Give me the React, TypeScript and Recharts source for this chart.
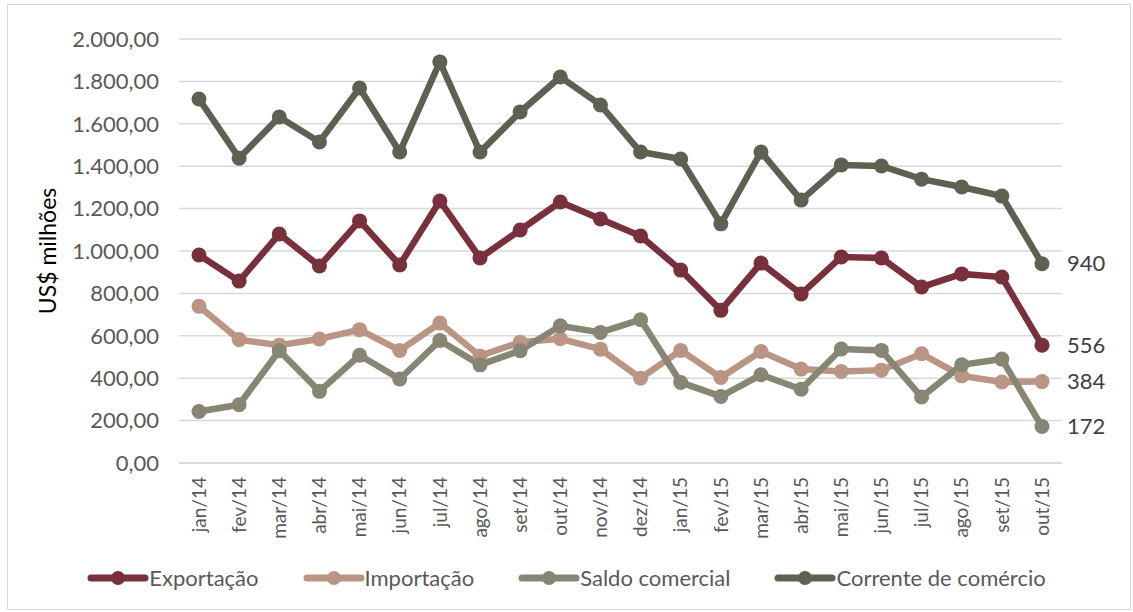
import { LineChart, Line, XAxis, YAxis, CartesianGrid, LabelList } from "recharts";

const months = [
  "jan/14", "fev/14", "mar/14", "abr/14", "mai/14", "jun/14", "jul/14", "ago/14",
  "set/14", "out/14", "nov/14", "dez/14", "jan/15", "fev/15", "mar/15", "abr/15",
  "mai/15", "jun/15", "jul/15", "ago/15", "set/15", "out/15",
];

const exportacao = [
  981, 858, 1080, 929, 1142, 934, 1236, 967, 1099, 1231, 1151,
  1071, 910, 720, 943, 797, 972, 967, 830, 892, 877, 556,
];
const importacao = [
  739, 582, 556, 585, 629, 531, 660, 505, 570, 586, 537,
  400, 531, 403, 526, 443, 432, 438, 515, 411, 382, 384,
];
const saldo = [
  243, 275, 530, 338, 508, 396, 578, 463, 530, 647, 616,
  676, 380, 314, 416, 348, 538, 531, 311, 463, 490, 172,
];
const corrente = [
  1717, 1438, 1632, 1514, 1769, 1467, 1892, 1467, 1656, 1821, 1689,
  1467, 1434, 1128, 1467, 1240, 1406, 1401, 1339, 1302, 1259, 940,
];

const yTicks = [0, 200, 400, 600, 800, 1000, 1200, 1400, 1600, 1800, 2000];

const series = [
  { key: "exportacao", name: "Exportação", color: "#78303C" },
  { key: "importacao", name: "Importação", color: "#BA9584" },
  { key: "saldo", name: "Saldo comercial", color: "#878674" },
  { key: "corrente", name: "Corrente de comércio", color: "#5F6051" },
];

const data = months.map((m, i) => ({
  month: m,
  exportacao: exportacao[i],
  importacao: importacao[i],
  saldo: saldo[i],
  corrente: corrente[i],
}));

const FONT = "Lato, 'Open Sans', sans-serif";

function fmt(v: number) {
  const s = Math.round(v).toString();
  const withDots = s.replace(/\B(?=(\d{3})+(?!\d))/g, ".");
  return withDots + ",00";
}

const MonthTick = (props: any) => {
  const { x, y, payload } = props;
  return (
    <g transform={`translate(${x},${y + 6}) rotate(-90)`}>
      <text textAnchor="end" dy="0.35em" fill="#595959" fontSize={19} fontFamily={FONT}>
        {payload.value}
      </text>
    </g>
  );
};

const EndLabel = (props: any) => {
  const { x, y, index, value } = props;
  if (index !== months.length - 1) return null;
  return (
    <text x={x + 25} y={y} dy="0.35em" fill="#404040" fontSize={22} fontFamily={FONT}>
      {value}
    </text>
  );
};

function LegendIcon({ color }: { color: string }) {
  return (
    <svg width={62} height={18} style={{ display: "block" }}>
      <line x1={4} y1={9} x2={58} y2={9} stroke={color} strokeWidth={7} strokeLinecap="round" />
      <circle cx={31} cy={9} r={7} fill={color} />
    </svg>
  );
}

export default function App() {
  return (
    <div
      style={{
        position: "absolute",
        left: 0,
        top: 0,
        width: 1133,
        height: 612,
        background: "#fff",
        fontFamily: FONT,
      }}
    >
      <div
        style={{
          position: "absolute",
          left: 7,
          top: 4,
          width: 1124,
          height: 606,
          border: "1.5px solid #D9D9D9",
          boxSizing: "border-box",
        }}
      />
      <div
        style={{
          position: "absolute",
          left: 47,
          top: 251,
          transform: "translate(-50%, -50%) rotate(-90deg)",
          fontSize: 23,
          color: "#000",
          whiteSpace: "nowrap",
        }}
      >
        US$ milhões
      </div>
      <div style={{ position: "absolute", left: 0, top: 0 }}>
        <LineChart
          width={1133}
          height={612}
          data={data}
          margin={{ top: 39, right: 71, left: 79, bottom: 59 }}
        >
          <CartesianGrid vertical={false} stroke="#D9D9D9" strokeWidth={1.5} />
          <XAxis
            dataKey="month"
            interval={0}
            height={90}
            padding={{ left: 20, right: 20 }}
            axisLine={{ stroke: "#D9D9D9", strokeWidth: 1.5 }}
            tickLine={false}
            tick={<MonthTick />}
          />
          <YAxis
            width={100}
            domain={[0, 2000]}
            ticks={yTicks}
            axisLine={false}
            tickLine={false}
            tickMargin={14}
            tickFormatter={fmt}
            tick={{ fill: "#595959", fontSize: 22, fontFamily: FONT }}
          />
          {series.map((s) => (
            <Line
              key={s.key}
              type="linear"
              dataKey={s.key}
              name={s.name}
              stroke={s.color}
              strokeWidth={6.5}
              dot={{ r: 7.5, fill: s.color, stroke: s.color, strokeWidth: 0 }}
              activeDot={false}
              isAnimationActive={false}
            >
              <LabelList dataKey={s.key} content={<EndLabel />} />
            </Line>
          ))}
        </LineChart>
      </div>
      <div
        style={{
          position: "absolute",
          left: 0,
          top: 564,
          width: 1133,
          display: "flex",
          justifyContent: "center",
          gap: 44,
          fontSize: 22,
          color: "#595959",
        }}
      >
        {series.map((s) => (
          <div key={s.key} style={{ display: "flex", alignItems: "center", gap: 0 }}>
            <LegendIcon color={s.color} />
            <span>{s.name}</span>
          </div>
        ))}
      </div>
    </div>
  );
}
